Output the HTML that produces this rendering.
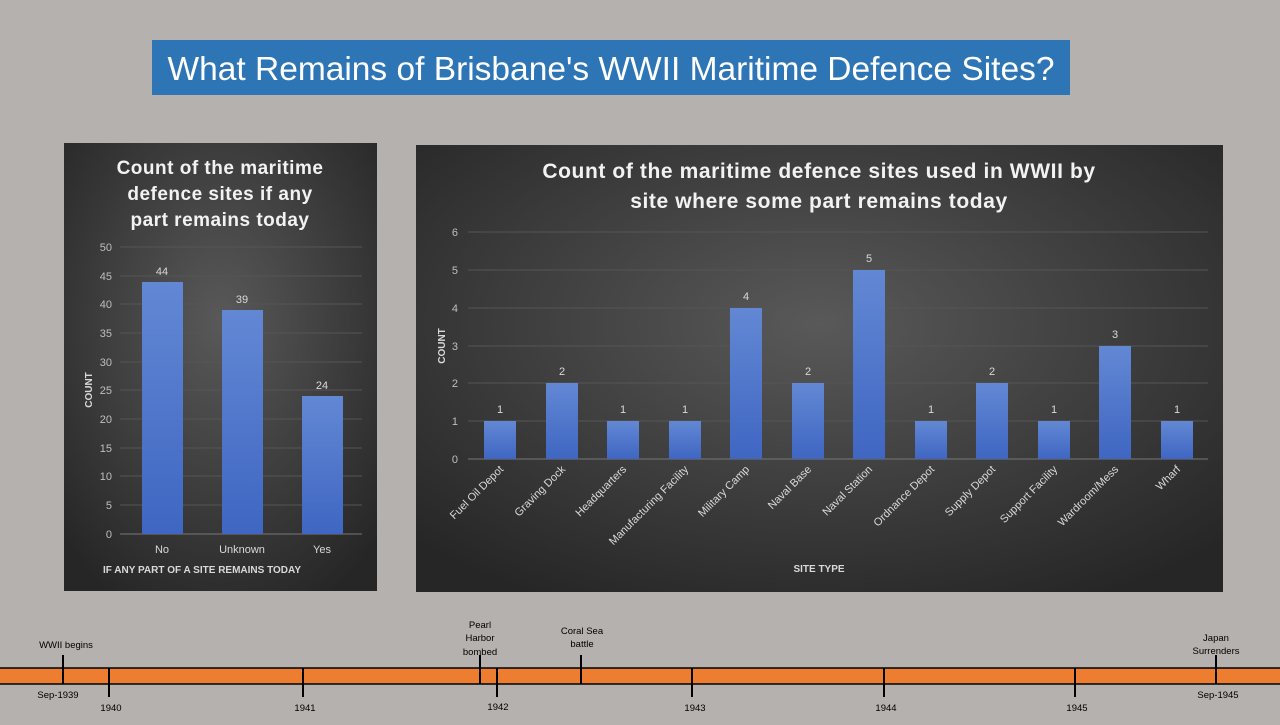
<!DOCTYPE html>
<html><head><meta charset="utf-8"><style>
body{margin:0;width:1280px;height:720px;background:#b5b1ae;overflow:hidden;font-family:"Liberation Sans",sans-serif}
</style></head><body>
<svg width="1280" height="720" xmlns="http://www.w3.org/2000/svg" font-family="Liberation Sans, sans-serif">
<defs>
<radialGradient id="bg" cx="50%" cy="40%" r="70%"><stop offset="0" stop-color="#595959"/><stop offset="1" stop-color="#262626"/></radialGradient>
<linearGradient id="bar" x1="0" y1="0" x2="0" y2="1"><stop offset="0" stop-color="#6288d4"/><stop offset="1" stop-color="#3f66c2"/></linearGradient>
</defs>
<rect x="152" y="40" width="918" height="55" fill="#2e75b6"/>
<text x="611" y="80" font-size="33.5" fill="#fff" text-anchor="middle">What Remains of Brisbane's WWII Maritime Defence Sites?</text>

<rect x="64" y="143" width="313" height="448" fill="url(#bg)"/>
<g font-size="19" font-weight="bold" fill="#f2f2f2" text-anchor="middle" letter-spacing="0.5">
<text x="220" y="174">Count of the maritime</text>
<text x="220" y="200">defence sites if any</text>
<text x="220" y="226">part remains today</text></g>
<g stroke="#555" stroke-width="1">
<line x1="120" x2="362" y1="247" y2="247"/><line x1="120" x2="362" y1="276" y2="276"/><line x1="120" x2="362" y1="304" y2="304"/><line x1="120" x2="362" y1="333" y2="333"/><line x1="120" x2="362" y1="362" y2="362"/><line x1="120" x2="362" y1="390" y2="390"/><line x1="120" x2="362" y1="419" y2="419"/><line x1="120" x2="362" y1="448" y2="448"/><line x1="120" x2="362" y1="476" y2="476"/><line x1="120" x2="362" y1="505" y2="505"/><line x1="120" x2="362" y1="534" y2="534" stroke="#777"/></g>
<g font-size="11" fill="#bfbfbf" text-anchor="end">
<text x="112" y="251">50</text><text x="112" y="280">45</text><text x="112" y="308">40</text><text x="112" y="337">35</text><text x="112" y="366">30</text><text x="112" y="394">25</text><text x="112" y="423">20</text><text x="112" y="452">15</text><text x="112" y="480">10</text><text x="112" y="509">5</text><text x="112" y="538">0</text></g>
<rect x="142" y="282" width="41" height="252" fill="url(#bar)"/>
<rect x="222" y="310" width="41" height="224" fill="url(#bar)"/>
<rect x="302" y="396" width="41" height="138" fill="url(#bar)"/>
<g font-size="11" fill="#d9d9d9" text-anchor="middle">
<text x="162" y="275">44</text><text x="242" y="303">39</text><text x="322" y="389">24</text>
<text x="162" y="553">No</text><text x="242" y="553">Unknown</text><text x="322" y="553">Yes</text></g>
<text x="202" y="573" font-size="10" font-weight="bold" fill="#d9d9d9" text-anchor="middle">IF ANY PART OF A SITE REMAINS TODAY</text>
<text transform="translate(92,390) rotate(-90)" font-size="10" font-weight="bold" fill="#d9d9d9" text-anchor="middle">COUNT</text>

<rect x="416" y="145" width="807" height="447" fill="url(#bg)"/>
<g font-size="21" font-weight="bold" fill="#f2f2f2" text-anchor="middle" letter-spacing="0.6">
<text x="819" y="178">Count of the maritime defence sites used in WWII by</text>
<text x="819" y="208">site where some part remains today</text></g>
<g stroke="#555"><line x1="468" x2="1208" y1="232" y2="232"/><line x1="468" x2="1208" y1="270" y2="270"/><line x1="468" x2="1208" y1="308" y2="308"/><line x1="468" x2="1208" y1="346" y2="346"/><line x1="468" x2="1208" y1="383" y2="383"/><line x1="468" x2="1208" y1="421" y2="421"/><line x1="468" x2="1208" y1="459" y2="459" stroke="#777"/></g>
<g font-size="11" fill="#bfbfbf" text-anchor="end">
<text x="458" y="236">6</text><text x="458" y="274">5</text><text x="458" y="312">4</text><text x="458" y="350">3</text><text x="458" y="387">2</text><text x="458" y="425">1</text><text x="458" y="463">0</text></g>
<text transform="translate(445,346) rotate(-90)" font-size="10" font-weight="bold" fill="#d9d9d9" text-anchor="middle">COUNT</text>
<text x="819" y="572" font-size="10" font-weight="bold" fill="#d9d9d9" text-anchor="middle">SITE TYPE</text>
<g fill="url(#bar)">
<rect x="484" y="421" width="32" height="38"/><rect x="546" y="383" width="32" height="76"/><rect x="607" y="421" width="32" height="38"/><rect x="669" y="421" width="32" height="38"/><rect x="730" y="308" width="32" height="151"/><rect x="792" y="383" width="32" height="76"/><rect x="853" y="270" width="32" height="189"/><rect x="915" y="421" width="32" height="38"/><rect x="976" y="383" width="32" height="76"/><rect x="1038" y="421" width="32" height="38"/><rect x="1099" y="346" width="32" height="113"/><rect x="1161" y="421" width="32" height="38"/></g>
<g font-size="11" fill="#d9d9d9" text-anchor="middle">
<text x="500" y="413">1</text><text x="562" y="375">2</text><text x="623" y="413">1</text><text x="685" y="413">1</text><text x="746" y="300">4</text><text x="808" y="375">2</text><text x="869" y="262">5</text><text x="931" y="413">1</text><text x="992" y="375">2</text><text x="1054" y="413">1</text><text x="1115" y="338">3</text><text x="1177" y="413">1</text></g>
<g font-size="11" fill="#d9d9d9" text-anchor="end">
<text transform="translate(504,470) rotate(-45)">Fuel Oil Depot</text>
<text transform="translate(566,470) rotate(-45)">Graving Dock</text>
<text transform="translate(627,470) rotate(-45)">Headquarters</text>
<text transform="translate(689,470) rotate(-45)">Manufacturing Facility</text>
<text transform="translate(750,470) rotate(-45)">Military Camp</text>
<text transform="translate(812,470) rotate(-45)">Naval Base</text>
<text transform="translate(873,470) rotate(-45)">Naval Station</text>
<text transform="translate(935,470) rotate(-45)">Ordnance Depot</text>
<text transform="translate(996,470) rotate(-45)">Supply Depot</text>
<text transform="translate(1058,470) rotate(-45)">Support Facility</text>
<text transform="translate(1119,470) rotate(-45)">Wardroom/Mess</text>
<text transform="translate(1181,470) rotate(-45)">Wharf</text></g>

<rect x="-2" y="668" width="1290" height="16" fill="#ed7d31" stroke="#000" stroke-width="1.5"/>
<g stroke="#000" stroke-width="2">
<line x1="63" x2="63" y1="655" y2="684"/><line x1="109" x2="109" y1="668" y2="697"/><line x1="303" x2="303" y1="668" y2="697"/><line x1="480" x2="480" y1="655" y2="684"/><line x1="497" x2="497" y1="668" y2="697"/><line x1="581" x2="581" y1="655" y2="684"/><line x1="692" x2="692" y1="668" y2="697"/><line x1="884" x2="884" y1="668" y2="697"/><line x1="1075" x2="1075" y1="668" y2="697"/><line x1="1216" x2="1216" y1="655" y2="684"/></g>
<g font-size="9.5" fill="#000" text-anchor="middle">
<text x="66" y="648">WWII begins</text>
<text x="480" y="628">Pearl</text><text x="480" y="641">Harbor</text><text x="480" y="655">bombed</text>
<text x="582" y="634">Coral Sea</text><text x="582" y="647">battle</text>
<text x="1216" y="641">Japan</text><text x="1216" y="654">Surrenders</text>
<text x="58" y="698">Sep-1939</text><text x="1218" y="698">Sep-1945</text>
<text x="111" y="711">1940</text><text x="305" y="711">1941</text><text x="498" y="710">1942</text><text x="695" y="711">1943</text><text x="886" y="711">1944</text><text x="1077" y="711">1945</text></g>
</svg>
</body></html>
